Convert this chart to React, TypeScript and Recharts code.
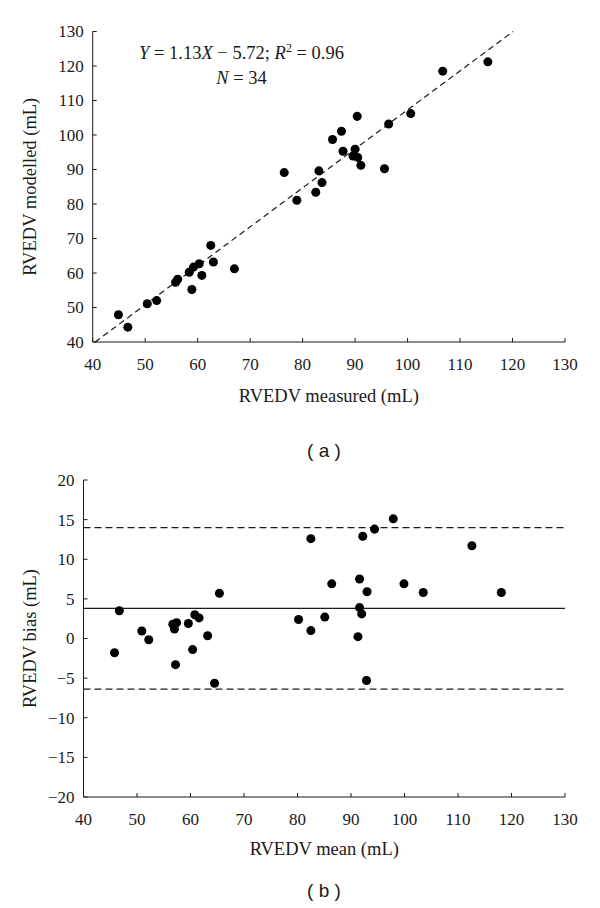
import {
  Label,
  ReferenceLine,
  Scatter,
  ScatterChart,
  XAxis,
  YAxis,
  ZAxis,
} from 'recharts'

// (a) modelled vs measured
const measured = [
  44.9, 46.7, 50.4, 52.2, 55.8, 56.2, 58.9, 58.4, 59.2, 60.3, 60.8, 62.5, 63.0, 67.0, 76.5, 78.9,
  82.5, 83.1, 83.7, 85.7, 87.4, 87.7, 89.6, 90.0, 90.4, 90.5, 91.1, 95.6, 96.4, 100.6, 106.7, 115.3,
]
const modelled = [
  47.9, 44.3, 51.1, 52.0, 57.3, 58.2, 55.2, 60.2, 61.7, 62.7, 59.3, 68.0, 63.2, 61.2, 89.1, 81.1,
  83.4, 89.6, 86.2, 98.7, 101.1, 95.3, 93.9, 95.9, 105.4, 93.5, 91.2, 90.2, 103.2, 106.2, 118.5, 121.2,
]
const fitSlope = 1.13
const fitIntercept = -5.72

// (b) Bland-Altman
const meanVals = [
  45.8, 46.7, 50.9, 52.2, 56.7, 57.0, 57.2, 57.4, 59.6, 60.4, 60.8, 61.6, 63.2, 64.5, 65.4, 80.2, 82.5,
  82.5, 85.1, 86.4, 91.3, 91.6, 91.6, 92.0, 92.2, 92.9, 93.0, 94.4, 97.9, 99.9, 103.5, 112.6, 118.1,
]
const biasVals = [
  -1.8, 3.5, 0.95, -0.15, 1.8, 1.2, -3.3, 2.0, 1.9, -1.4, 3.0, 2.6, 0.35, -5.65, 5.7, 2.4, 12.6,
  1.0, 2.7, 6.9, 0.23, 7.5, 3.9, 3.1, 12.9, -5.3, 5.9, 13.8, 15.1, 6.9, 5.8, 11.7, 5.8,
]
const biasMean = 3.8
const upperLimit = 14.0
const lowerLimit = -6.4

const xTicks = [40, 50, 60, 70, 80, 90, 100, 110, 120, 130]
const yTicksA = [40, 50, 60, 70, 80, 90, 100, 110, 120, 130]
const yTicksB = [-20, -15, -10, -5, 0, 5, 10, 15, 20]

const dataA = measured.map((x, i) => ({ x, y: modelled[i] }))
const dataB = meanVals.map((x, i) => ({ x, y: biasVals[i] }))

const SERIF = '"Liberation Serif", "Times New Roman", serif'
const INK = '#1a1a1a'
const TICK = 4

const fmt = (v: number) => (v < 0 ? `\u2212${Math.abs(v)}` : `${v}`)

function BottomTick({ x, y, payload }: any) {
  return (
    <g>
      <line x1={x} x2={x} y1={y} y2={y - TICK} stroke={INK} />
      <text x={x} y={y + 22} dy="0.35em" textAnchor="middle" fontFamily={SERIF} fontSize={17} fill={INK}>
        {fmt(payload.value)}
      </text>
    </g>
  )
}

function TopTick({ x, y }: any) {
  return <line x1={x} x2={x} y1={y} y2={y + TICK} stroke={INK} />
}

function LeftTick({ x, y, payload }: any) {
  return (
    <g>
      <line x1={x} x2={x + TICK} y1={y} y2={y} stroke={INK} />
      <text x={x - 9} y={y} dy="0.35em" textAnchor="end" fontFamily={SERIF} fontSize={17} fill={INK}>
        {fmt(payload.value)}
      </text>
    </g>
  )
}

function RightTick({ x, y }: any) {
  return <line x1={x} x2={x - TICK} y1={y} y2={y} stroke={INK} />
}

function axisTitle(text: string, dy: number) {
  return ({ viewBox }: any) => (
    <text
      x={viewBox.x + viewBox.width / 2}
      y={viewBox.y + dy}
      dy="0.35em"
      textAnchor="middle"
      fontFamily={SERIF}
      fontSize={18.5}
      fill={INK}
    >
      {text}
    </text>
  )
}

function yTitle(text: string) {
  return ({ viewBox }: any) => {
    const cy = viewBox.y + viewBox.height / 2
    return (
      <text
        x={30}
        y={cy}
        dy="0.35em"
        textAnchor="middle"
        transform={`rotate(-90, 30, ${cy})`}
        fontFamily={SERIF}
        fontSize={18.5}
        fill={INK}
      >
        {text}
      </text>
    )
  }
}

const axisCommon = {
  type: 'number' as const,
  tickSize: 0,
  tickMargin: 0,
  tickLine: false,
  interval: 0 as const,
  allowDataOverflow: true,
  axisLine: { stroke: INK },
}

export default function App() {
  const fitStartX = (40 - fitIntercept) / fitSlope
  const fitEndX = (130 - fitIntercept) / fitSlope

  return (
    <div style={{ position: 'absolute', left: 0, top: 0, width: 600, height: 908, background: '#fff' }}>
      <div style={{ position: 'absolute', left: 0, top: 0 }}>
        <ScatterChart width={600} height={460} margin={{ top: 31.5, right: 35, left: 0, bottom: 0 }}>
          <XAxis {...axisCommon} dataKey="x" domain={[40, 130]} ticks={xTicks} height={118} tick={<BottomTick />}>
            <Label content={axisTitle('RVEDV measured (mL)', 54)} />
          </XAxis>
          <XAxis {...axisCommon} xAxisId="top" orientation="top" domain={[40, 130]} ticks={xTicks} height={0} tick={<TopTick />} />
          <YAxis {...axisCommon} dataKey="y" domain={[40, 130]} ticks={yTicksA} width={92.7} tick={<LeftTick />}>
            <Label content={yTitle('RVEDV modelled (mL)')} />
          </YAxis>
          <YAxis {...axisCommon} yAxisId="right" orientation="right" domain={[40, 130]} ticks={yTicksA} width={0} tick={<RightTick />} />
          <ZAxis range={[80, 80]} />
          <ReferenceLine
            segment={[
              { x: fitStartX, y: fitSlope * fitStartX + fitIntercept },
              { x: fitEndX, y: fitSlope * fitEndX + fitIntercept },
            ]}
            stroke={INK}
            strokeWidth={1.2}
            strokeDasharray="6 4"
          />
          <Scatter data={dataA} fill="#000" isAnimationActive={false} />
        </ScatterChart>
      </div>

      <div
        style={{
          position: 'absolute',
          left: 91.5,
          top: 40.5,
          width: 300,
          textAlign: 'center',
          fontFamily: SERIF,
          fontSize: 18.5,
          lineHeight: '25px',
          color: INK,
        }}
      >
        <div>
          <i>Y</i> = 1.13<i>X</i> − 5.72; <i>R</i>
          <sup style={{ fontSize: 12, lineHeight: 0 }}>2</sup> = 0.96
        </div>
        <div>
          <i>N</i> = 34
        </div>
      </div>

      <div
        style={{
          position: 'absolute',
          left: 224,
          top: 438,
          width: 200,
          textAlign: 'center',
          fontFamily: '"Liberation Sans", Arial, sans-serif',
          fontSize: 19,
          lineHeight: '26px',
          color: INK,
        }}
      >
        ( a )
      </div>

      <div style={{ position: 'absolute', left: 0, top: 460 }}>
        <ScatterChart width={600} height={448} margin={{ top: 20, right: 35, left: 0, bottom: 0 }}>
          <XAxis {...axisCommon} dataKey="x" domain={[40, 130]} ticks={xTicks} height={111} tick={<BottomTick />}>
            <Label content={axisTitle('RVEDV mean (mL)', 52)} />
          </XAxis>
          <XAxis {...axisCommon} xAxisId="top" orientation="top" domain={[40, 130]} ticks={xTicks} height={0} tick={<TopTick />} />
          <YAxis {...axisCommon} dataKey="y" domain={[-20, 20]} ticks={yTicksB} width={83.5} tick={<LeftTick />}>
            <Label content={yTitle('RVEDV bias (mL)')} />
          </YAxis>
          <YAxis {...axisCommon} yAxisId="right" orientation="right" domain={[-20, 20]} ticks={yTicksB} width={0} tick={<RightTick />} />
          <ZAxis range={[80, 80]} />
          <ReferenceLine y={upperLimit} stroke={INK} strokeWidth={1.2} strokeDasharray="7 4" />
          <ReferenceLine y={biasMean} stroke={INK} strokeWidth={1.2} />
          <ReferenceLine y={lowerLimit} stroke={INK} strokeWidth={1.2} strokeDasharray="7 4" />
          <Scatter data={dataB} fill="#000" isAnimationActive={false} />
        </ScatterChart>
      </div>

      <div
        style={{
          position: 'absolute',
          left: 224,
          top: 878,
          width: 200,
          textAlign: 'center',
          fontFamily: '"Liberation Sans", Arial, sans-serif',
          fontSize: 19,
          lineHeight: '26px',
          color: INK,
        }}
      >
        ( b )
      </div>
    </div>
  )
}
